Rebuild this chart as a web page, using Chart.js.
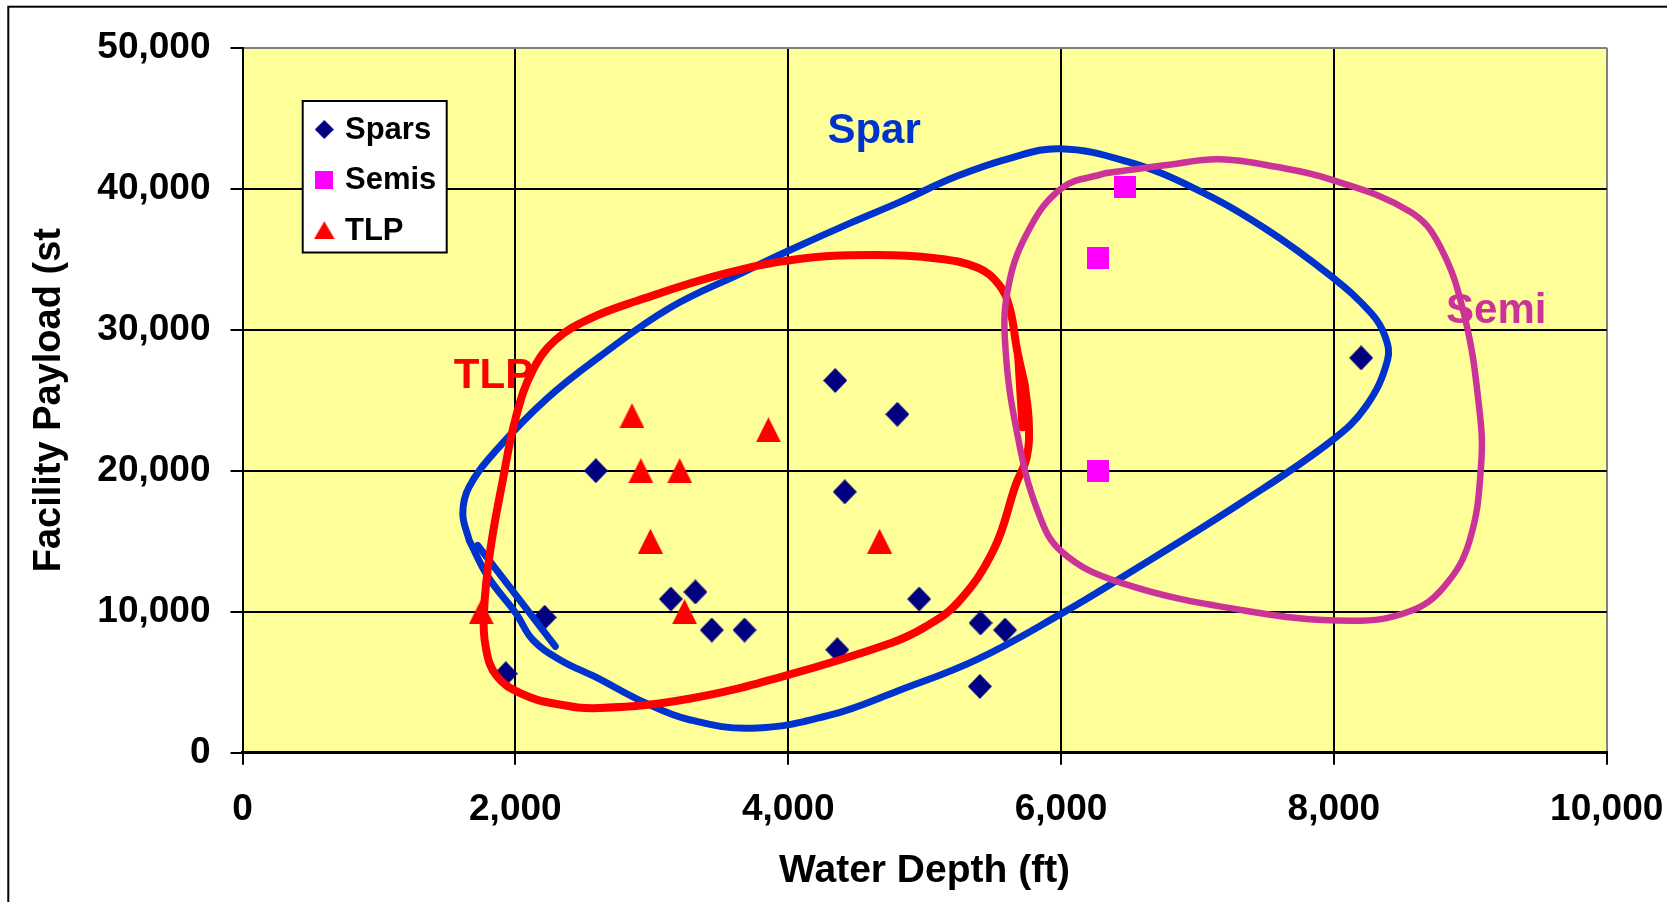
<!DOCTYPE html>
<html lang="en">

<head>
  <meta charset="UTF-8">
  <title>Facility Payload vs Water Depth</title>
  <style>
    html,
    body {
      margin: 0;
      padding: 0;
      background: #fff;
    }

    #wrap {
      width: 1667px;
      height: 902px;
    }
  </style>
</head>

<body>
  <div id="wrap"><canvas id="payloadChart" width="1667" height="902"></canvas></div>

  <script src="https://cdn.jsdelivr.net/npm/chart.js"></script>
  <script>
    // axis ticks
    const depthTicks = [0, 2000, 4000, 6000, 8000, 10000];
    const payloadTicks = [0, 10000, 20000, 30000, 40000, 50000];

    // facilities (water depth ft, payload st)
    const sparsDepth = [1930, 2215, 2590, 3140, 3320, 3440, 3680, 4345, 4360, 4800, 4415, 4960, 5410, 5590, 5405, 8200];
    const sparsPayload = [5600, 9600, 20000, 10900, 11400, 8700, 8700, 26400, 7300, 24000, 18500, 10900, 9200, 8700, 4700, 28000];
    const semisDepth = [6470, 6270, 6270];
    const semisPayload = [40150, 35100, 20000];
    const tlpDepth = [2855, 2920, 3205, 2990, 3855, 4670, 3240, 1750];
    const tlpPayload = [23900, 20000, 20000, 15000, 22900, 15000, 10000, 10000];

    // hand drawn envelopes
    const sparLoopX = [1661, 1615, 1661, 1864, 2231, 2613, 3128, 3674, 4002, 4454, 4821, 5234, 5624, 5990, 6482, 6973, 7496, 7980, 8276, 8377, 8393, 8237, 7980, 7332, 6435, 6006, 5390, 4821, 4298, 3736, 3276, 2949, 2590, 2332, 2129, 2005, 1802, 1661];
    const sparLoopY = [15083, 16968, 18854, 21493, 25113, 28054, 31523, 34088, 35596, 37557, 39065, 40875, 42157, 42836, 41931, 40045, 37180, 33786, 31146, 29487, 27828, 24585, 22097, 17798, 12368, 9879, 6637, 4449, 2640, 1735, 2338, 3545, 5354, 6561, 7994, 9879, 12443, 15083];
    const sparTailX = [1724, 2293];
    const sparTailY = [14706, 7541];

    const tlpLoopX = [5733, 5764, 5749, 5671, 5507, 5242, 5000, 4750, 3994, 3284, 2621, 2293, 2036, 1864, 1786, 1771, 1817, 1903, 2005, 2129, 2293, 2543, 2894, 3518, 4064, 4610, 5078, 5390, 5546, 5624, 5679, 5733];
    const tlpLoopY = [26169, 23379, 20965, 19080, 14404, 10634, 8899, 7768, 5505, 3846, 3167, 3469, 4223, 5430, 7315, 10106, 14404, 19080, 23831, 27149, 29261, 30769, 32051, 33937, 34993, 35294, 35068, 34389, 33183, 31523, 28507, 26169];
    const tlpTailX = [5686, 5718];
    const tlpTailY = [28131, 23077];

    const semiLoopX = [6326, 6794, 7161, 7574, 7980, 8557, 8775, 8955, 9064, 9080, 8994, 8807, 8557, 8128, 7332, 6435, 6006, 5827, 5679, 5593, 5608, 5749, 6006, 6326];
    const semiLoopY = [41101, 41704, 42082, 41554, 40649, 38386, 35973, 31071, 24585, 20513, 15008, 11765, 10030, 9351, 10106, 12066, 14253, 17195, 22625, 28658, 32730, 36803, 40045, 41101];

    // envelope names and where they sit
    const curveLabels = ['Spar', 'TLP', 'Semi'];
    const curveLabelX = [4630, 1840, 9190];
    const curveLabelY = [44080, 26700, 31320];

    const FONT = '"Liberation Sans", Arial, sans-serif';
    const labelColors = ['#0033CC', '#FF0000', '#CC3399'];

    function pairs(xs, ys) {
      return xs.map((x, i) => ({ x: x, y: ys[i] }));
    }

    // little canvases used as point styles
    function makeMarker(shape, w, h, color) {
      const c = document.createElement('canvas');
      c.width = w;
      c.height = h;
      const g = c.getContext('2d');
      g.fillStyle = color;
      g.beginPath();
      if (shape === 'diamond') {
        g.moveTo(w / 2, 0); g.lineTo(w, h / 2); g.lineTo(w / 2, h); g.lineTo(0, h / 2);
      } else if (shape === 'triangle') {
        g.moveTo(w / 2, 0); g.lineTo(w, h); g.lineTo(0, h);
      } else {
        g.rect(0, 0, w, h);
      }
      g.closePath();
      g.fill();
      return c;
    }

    const diamondMark = makeMarker('diamond', 24, 25, '#000080');
    const squareMark = makeMarker('square', 22, 22, '#FF00FF');
    const triangleMark = makeMarker('triangle', 25, 25, '#FF0000');
    const legendMarks = [
      makeMarker('diamond', 19, 19, '#000080'),
      makeMarker('square', 18, 18, '#FF00FF'),
      makeMarker('triangle', 21, 18, '#FF0000')
    ];

    function markerSet(label, xs, ys, mark) {
      return {
        label: label,
        data: pairs(xs, ys),
        showLine: false,
        pointStyle: mark,
        pointRadius: 12,
        pointBorderWidth: 0,
        order: 10
      };
    }

    function curveSet(xs, ys, color, width, order) {
      return {
        label: '',
        data: pairs(xs, ys),
        showLine: true,
        fill: false,
        borderColor: color,
        borderWidth: width,
        borderCapStyle: 'round',
        borderJoinStyle: 'round',
        tension: 0.4,
        pointRadius: 0,
        order: order
      };
    }

    const backdrop = {
      id: 'backdrop',
      beforeDraw(chart) {
        const { ctx, chartArea: a } = chart;
        ctx.save();
        ctx.fillStyle = '#fff';
        ctx.fillRect(0, 0, chart.width, chart.height);
        ctx.fillStyle = '#FFFF99';
        ctx.fillRect(a.left, a.top, a.right - a.left, a.bottom - a.top);
        ctx.strokeStyle = '#000';
        ctx.lineWidth = 2;
        ctx.strokeRect(8.3, 6.7, chart.width + 40, chart.height + 40);
        ctx.restore();
      }
    };

    const curveNames = {
      id: 'curveNames',
      beforeDatasetsDraw(chart) {
        const { ctx, scales: { x, y } } = chart;
        ctx.save();
        ctx.font = 'bold 42px ' + FONT;
        ctx.textAlign = 'center';
        ctx.textBaseline = 'middle';
        curveLabels.forEach((t, i) => {
          ctx.fillStyle = labelColors[i];
          ctx.fillText(t, x.getPixelForValue(curveLabelX[i]), y.getPixelForValue(curveLabelY[i]));
        });
        ctx.restore();
      }
    };

    // boxed legend sitting inside the plot, top left
    const boxLegend = {
      id: 'boxLegend',
      afterDraw(chart) {
        const { ctx, chartArea: a } = chart;
        const left = a.left + 60.2, top = a.top + 53.3, w = 144, h = 151.5;
        ctx.save();
        ctx.fillStyle = '#fff';
        ctx.fillRect(left, top, w, h);
        ctx.strokeStyle = '#000';
        ctx.lineWidth = 2;
        ctx.strokeRect(left, top, w, h);
        ctx.font = 'bold 31px ' + FONT;
        ctx.textAlign = 'left';
        ctx.textBaseline = 'middle';
        ctx.fillStyle = '#000';
        chart.data.datasets.slice(0, 3).forEach((ds, i) => {
          const cy = top + 28.5 + i * 50.4;
          const m = legendMarks[i];
          ctx.drawImage(m, left + 21.6 - m.width / 2, cy - m.height / 2);
          ctx.fillText(ds.label, left + 42.3, cy + 1);
        });
        ctx.restore();
      }
    };

    const ctx = document.getElementById('payloadChart').getContext('2d');
    new Chart(ctx, {
      type: 'scatter',
      data: {
        datasets: [
          markerSet('Spars', sparsDepth, sparsPayload, diamondMark),
          markerSet('Semis', semisDepth, semisPayload, squareMark),
          markerSet('TLP', tlpDepth, tlpPayload, triangleMark),
          curveSet(sparLoopX, sparLoopY, '#0033CC', 7, 3),
          curveSet(sparTailX, sparTailY, '#0033CC', 7, 3),
          curveSet(tlpLoopX, tlpLoopY, '#FF0000', 8, 2),
          curveSet(tlpTailX, tlpTailY, '#FF0000', 8, 2),
          curveSet(semiLoopX, semiLoopY, '#CC3399', 6.5, 1)
        ]
      },
      options: {
        responsive: false,
        animation: false,
        devicePixelRatio: 1,
        layout: {
          padding: { top: 47.7, right: 60.3, bottom: 0, left: 0 }
        },
        plugins: {
          legend: { display: false },
          tooltip: { enabled: false }
        },
        scales: {
          x: {
            type: 'linear',
            min: 0,
            max: 10000,
            afterBuildTicks: s => { s.ticks = depthTicks.map(v => ({ value: v })); },
            afterFit: s => {
              s.height = 149.3;
              s.paddingLeft = 0;
              s.paddingRight = 0;
            },
            grid: {
              color: c => (c.tick && c.tick.value === 10000) ? '#808080' : '#000',
              lineWidth: 2,
              tickLength: 12,
              tickColor: '#000',
              tickWidth: 2
            },
            border: { display: true, color: '#000', width: 3 },
            ticks: {
              color: '#000',
              padding: 23,
              maxRotation: 0,
              font: { family: FONT, size: 37, weight: 'bold' },
              callback: v => v.toLocaleString('en-US')
            },
            title: {
              display: true,
              text: 'Water Depth (ft)',
              color: '#000',
              padding: { top: 0, bottom: 7.6 },
              font: { family: FONT, size: 39, weight: 'bold' }
            }
          },
          y: {
            type: 'linear',
            min: 0,
            max: 50000,
            afterBuildTicks: s => { s.ticks = payloadTicks.map(v => ({ value: v })); },
            afterFit: s => {
              s.width = 242.5;
              s.paddingTop = 0;
              s.paddingBottom = 0;
            },
            grid: {
              color: c => (c.tick && c.tick.value === 50000) ? '#808080' : '#000',
              lineWidth: 2,
              tickLength: 12,
              tickColor: '#000',
              tickWidth: 2
            },
            border: { display: true, color: '#000', width: 2 },
            ticks: {
              color: '#000',
              padding: 20,
              font: { family: FONT, size: 37, weight: 'bold' },
              callback: v => v.toLocaleString('en-US')
            },
            title: {
              display: true,
              text: 'Facility Payload (st',
              color: '#000',
              padding: { top: 27, bottom: 0 },
              font: { family: FONT, size: 38, weight: 'bold' }
            }
          }
        }
      },
      plugins: [backdrop, curveNames, boxLegend]
    });
  </script>
</body>

</html>
